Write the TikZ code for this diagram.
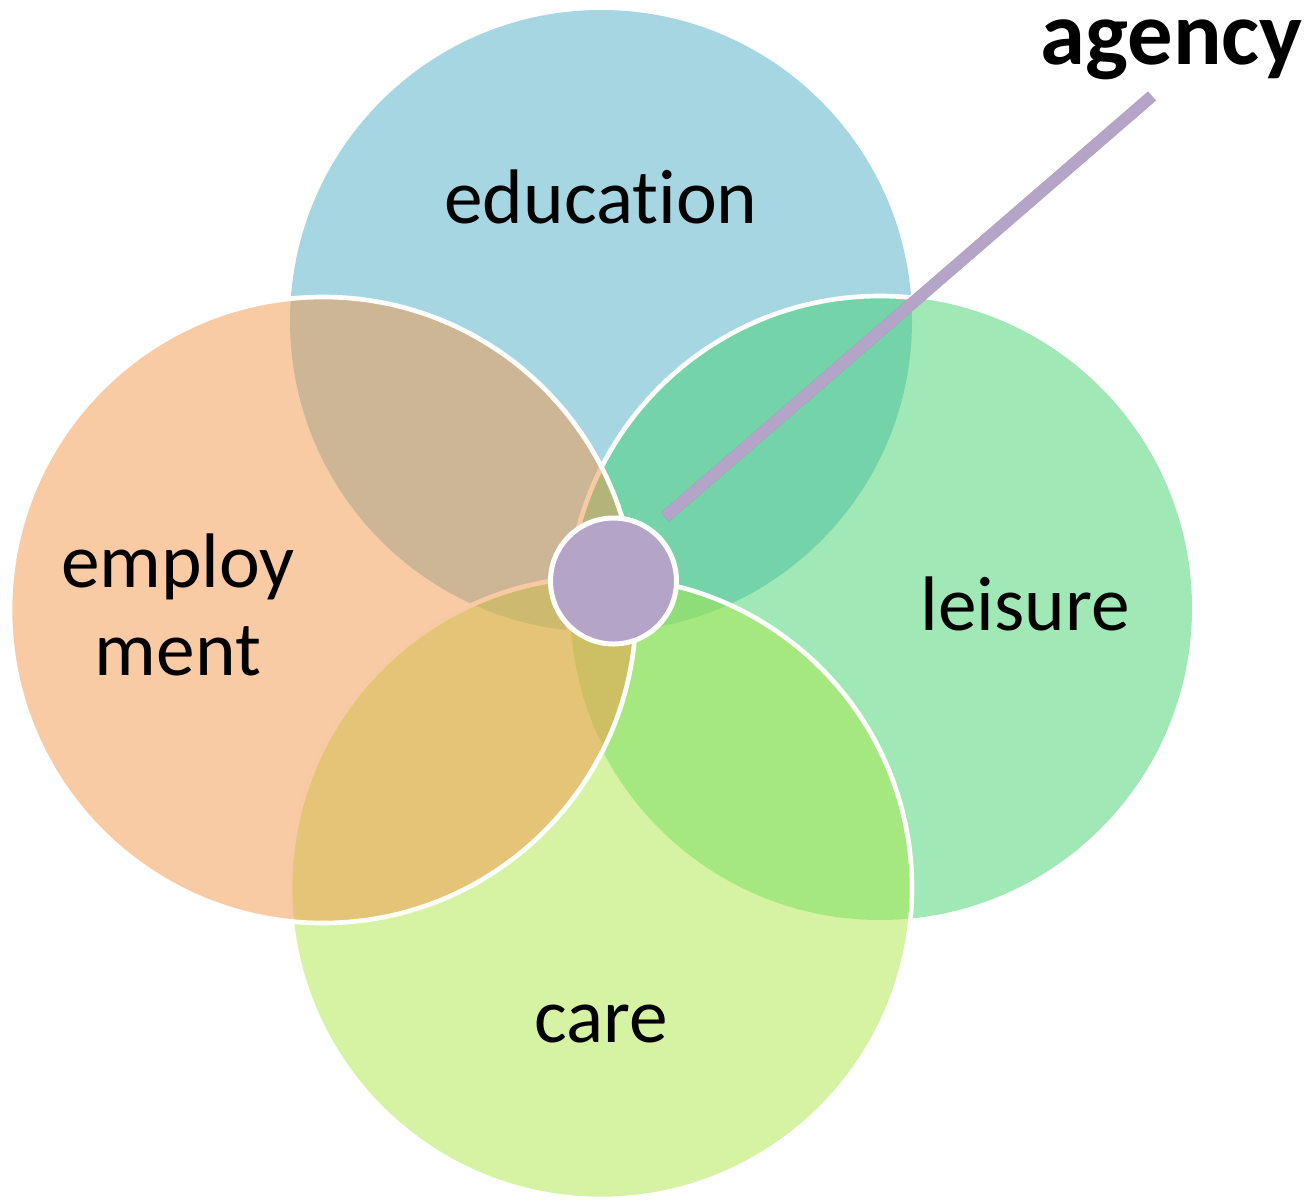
\documentclass[tikz,border=0pt]{standalone}
\usepackage{fontspec}
\setmainfont{Carlito}[Ligatures={NoCommon}]

\tikzset{every picture/.style={line width=0.75pt}}

\begin{document}
\begin{tikzpicture}[x=0.75pt,y=0.75pt,yscale=-1,xscale=1,
	venn text/.style={font=\fontsize{58}{66}\selectfont, align=center, text=black},
	rim/.style={color=white, line width=3.5pt}]
	\path[use as bounding box] (0,0) rectangle (1312,1200);

	%Shape: Circle [education]
	\fill [fill={rgb, 255:red, 77; green, 173; blue, 197 }, fill opacity=0.5] (601,321) circle (311) ;
	%Shape: Circle [leisure]
	\fill [fill={rgb, 255:red, 67; green, 210; blue, 112 }, fill opacity=0.5] (880,608) circle (312) ;
	\begin{scope}
	\clip (601,321) circle (311) (323,610) circle (313) ;
	\draw [rim] (880,608) circle (312) ;
	\end{scope}
	%Shape: Circle [care]
	\fill [fill={rgb, 255:red, 173; green, 231; blue, 73 }, fill opacity=0.5] (601,888) circle (311) ;
	\draw [rim] (601,888) circle (311) ;
	%Shape: Circle [employment]
	\fill [fill={rgb, 255:red, 243; green, 151; blue, 75 }, fill opacity=0.5] (323,610) circle (313) ;
	\draw [rim] (323,610) circle (313) ;

	%Shape: Circle [hub]
	\node [circle, draw=white, line width=3.75pt, fill={rgb, 255:red, 179; green, 164; blue, 200 }, inner sep=0pt, minimum size=94.5pt] (hub) at (613.5,581) {} ;

	%Straight Lines [pointer]
	\coordinate (tail) at (665,517) ;
	\coordinate (head) at (1152,96) ;
	\draw [color={rgb, 255:red, 80; green, 80; blue, 80 }, draw opacity=0.35, line width=9pt, shift={(2,3)}] (tail) -- (head) ;
	\draw [color={rgb, 255:red, 179; green, 164; blue, 200 }, line width=9pt] (tail) -- (head) ;

	% Text Node
	\node [venn text, anchor=base] (education) at (601,223) {education} ;
	% Text Node
	\node [venn text, anchor=base] (leisure) at (1025,630) {leisure} ;
	% Text Node
	\node [venn text, anchor=base] (care) at (601,1042) {care} ;
	% Text Node
	\node [venn text, anchor=base] (employment) at (178,675) {employ\\ment} ;
	% Text Node
	\node [anchor=base east, inner sep=0pt, text height=1.1ex, font=\bfseries\fontsize{68}{80}\selectfont] (agency) at (1303,64) {agency} ;

\end{tikzpicture}
\end{document}
